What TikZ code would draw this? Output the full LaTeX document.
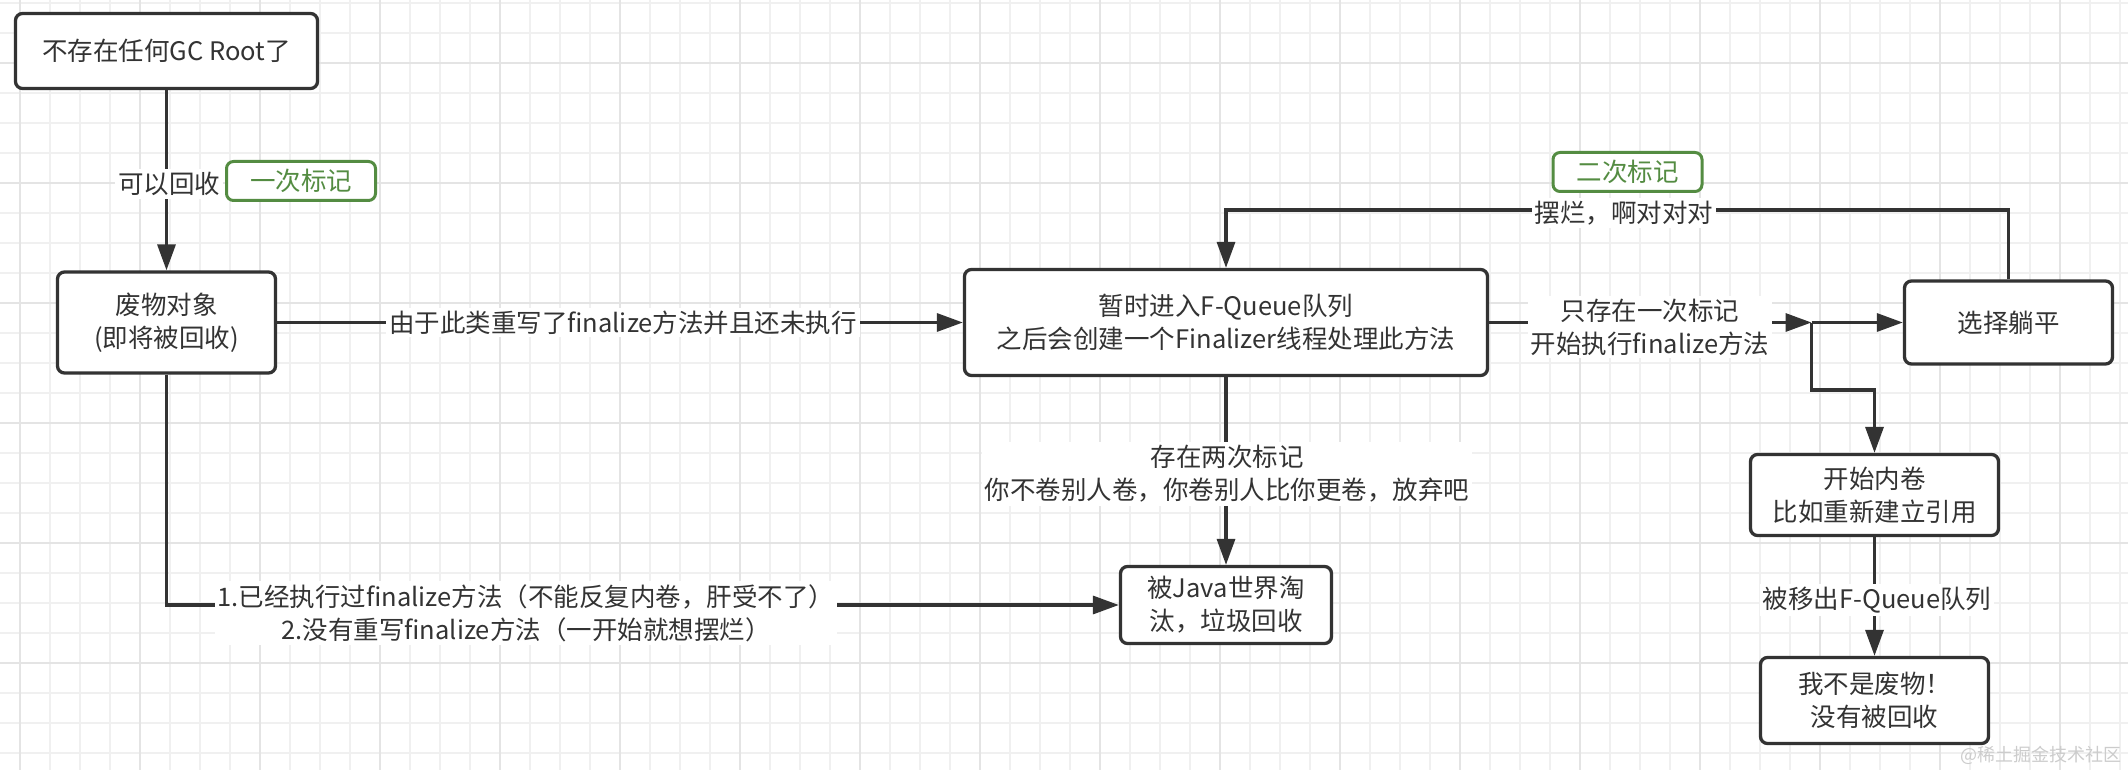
\documentclass[tikz,border=0pt]{standalone}
\usepackage{fontspec}
\setmainfont{Noto Sans CJK SC}
\usetikzlibrary{arrows.meta}
\definecolor{ink}{HTML}{333333}
\definecolor{mygreen}{RGB}{84,140,66}
\definecolor{gminc}{HTML}{F0F0F0}
\definecolor{gmajc}{HTML}{E4E4E4}
\newcommand\fsz{\fontsize{25.5}{33}\selectfont}
\begin{document}
\begin{tikzpicture}[x=1pt,y=-1pt,
  box/.style={draw=ink, line width=3.3pt, rounded corners=7pt, fill=white, text=ink, align=center, font=\fsz, inner sep=0pt},
  gbox/.style={draw=mygreen, line width=3pt, rounded corners=7pt, fill=white, text=mygreen, align=center, font=\fsz, inner sep=0pt, minimum width=149pt, minimum height=39pt},
  lbl/.style={fill=white, text=ink, align=center, font=\fsz, inner sep=3pt},
  arr/.style={draw=ink, line width=3.3pt, -{Triangle[length=26pt,width=18pt]}},
  gmin/.style={draw=gminc, line width=1.5pt},
  gmaj/.style={draw=gmajc, line width=1.5pt}]
\useasboundingbox (0,0) rectangle (2128,770);
\fill[white] (0,0) rectangle (2128,770);
% grid
\foreach \i in {0,...,70} \draw[gmin] ({20+30*\i},0) -- ({20+30*\i},770);
\foreach \j in {0,...,25} \draw[gmin] (0,{3+30*\j}) -- (2128,{3+30*\j});
\foreach \i in {0,...,17} \draw[gmaj] ({20+120*\i},0) -- ({20+120*\i},770);
\foreach \j in {0,...,5} \draw[gmaj] (0,{63+120*\j}) -- (2128,{63+120*\j});
% nodes
\node[box, minimum width=302pt, minimum height=75pt] (n1) at (166.5,51) {不存在任何GC Root了};
\node[box, minimum width=218pt, minimum height=101pt] (n2) at (166.5,322.5) {废物对象\\(即将被回收)};
\node[box, minimum width=523pt, minimum height=106pt] (n3) at (1226,322.5) {暂时进入F-Queue队列\\之后会创建一个Finalizer线程处理此方法};
\node[box, minimum width=208pt, minimum height=83pt] (n4) at (2008.5,322.5) {选择躺平};
\node[box, minimum width=248pt, minimum height=81pt] (n5) at (1874.5,495) {开始内卷\\比如重新建立引用};
\node[box, minimum width=228pt, minimum height=86pt] (n6) at (1874.5,700.5) {我不是废物！\\没有被回收};
\node[box, minimum width=211pt, minimum height=77pt] (n7) at (1226,605) {被Java世界淘\\汰，垃圾回收};
\node[gbox] (g1) at (301,181) {一次标记};
\node[gbox] (g2) at (1627.5,172) {二次标记};
% helper coordinates
\coordinate (J) at (1811.5,322.5);
\coordinate (bendy) at (0,390);
\coordinate (topy) at (0,210);
% connectors
\draw[arr] (n1) -- (n2);
\draw[arr] (n2) -- (n3);
\draw[arr] (n3) -- (J);
\draw[arr] (J) -- (n4);
\draw[arr] (J) -- (J |- bendy) -| (n5.north);
\draw[arr] (n4.north) -- (n4.north |- topy) -| (n3.north);
\draw[arr] (n3) -- (n7);
\draw[arr] (n5) -- (n6);
\draw[arr] (n2.south) |- (n7.west);
% labels
\node[lbl] (l1) at (169,184) {可以回收};
\node[lbl] (l2) at (623,322.5) {由于此类重写了finalize方法并且还未执行};
\node[lbl] (l3) at (1650,327) {只存在一次标记\\开始执行finalize方法};
\node[lbl] (l4) at (1624,213) {摆烂，啊对对对};
\node[lbl] (l5) at (1227,474) {存在两次标记\\你不卷别人卷，你卷别人比你更卷，放弃吧};
\node[lbl] (l6) at (526,613) {1.已经执行过finalize方法（不能反复内卷，肝受不了）\\2.没有重写finalize方法（一开始就想摆烂）};
\node[lbl] (l7) at (1877,600) {被移出F-Queue队列};
\node[font=\fontsize{18}{20}\selectfont, text=gray!40, inner sep=0pt] (wm) at (2041,755) {@稀土掘金技术社区};
\end{tikzpicture}
\end{document}
